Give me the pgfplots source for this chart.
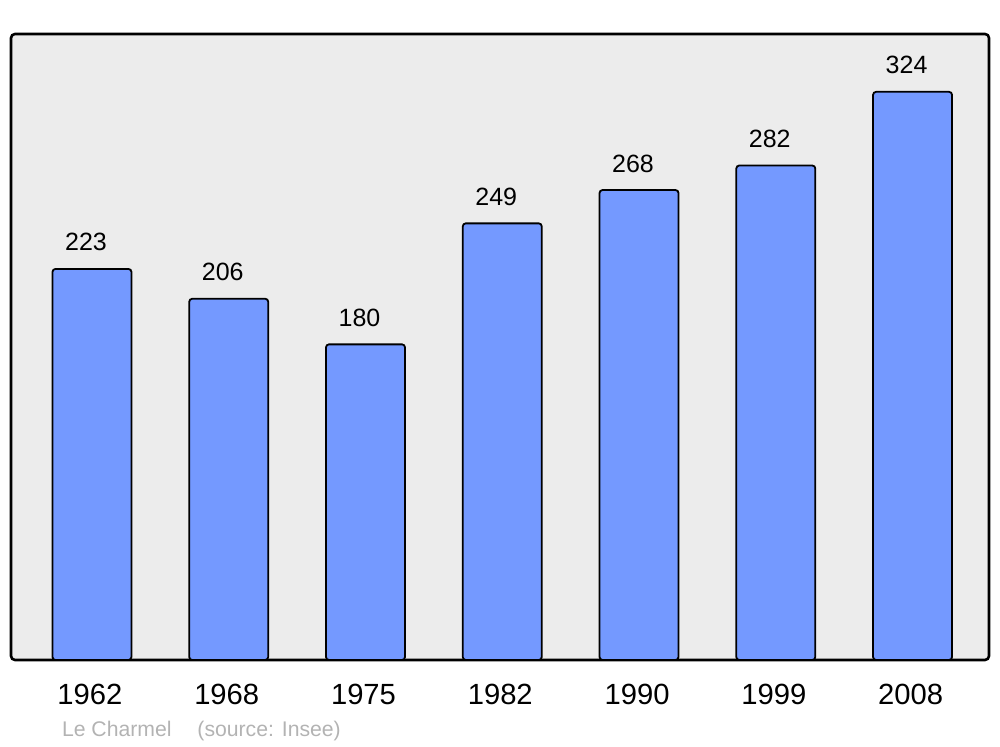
\documentclass[border=0pt]{standalone}
\usepackage{pgfplots}
\pgfplotsset{compat=1.18}
\usepackage{fontspec}
\setmainfont{Liberation Sans}
\definecolor{barblue}{HTML}{7499FF}
\definecolor{panel}{HTML}{ECECEC}
\definecolor{footgray}{HTML}{B3B3B3}

\begin{document}
\begin{tikzpicture}
\path[use as bounding box] (0,0) rectangle (500pt,373.5pt);
\begin{axis}[
    at={(5.5pt,43.5pt)}, anchor=south west,
    scale only axis,
    width=489pt, height=313pt,
    xmin=-0.592, xmax=6.559,
    ymin=0, ymax=357,
    axis line style={draw=none},
    axis background/.style={fill=panel, draw=black, line width=1.3pt, rounded corners=2pt},
    ybar, bar width=39.5pt,
    xtick=data,
    xticklabels={1962,1968,1975,1982,1990,1999,2008},
    xticklabel style={anchor=base, yshift=-22.5pt, xshift=-1pt, font=\fontsize{14.6pt}{16pt}\selectfont},
    ytick=\empty,
    major tick length=0pt,
    clip=false,
    /pgf/number format/assume math mode=true,
    nodes near coords,
    nodes near coords style={anchor=base, yshift=9pt, xshift=-3pt, font=\fontsize{12.5pt}{14pt}\selectfont, text=black},
]
\addplot[draw=black, fill=barblue, line width=0.9pt, rounded corners=1.5pt]
    coordinates {(0,223) (1,206) (2,180) (3,249) (4,268) (5,282) (6,324)};
\end{axis}
\node[anchor=base west, inner sep=0pt, text=footgray, font=\fontsize{10.6pt}{12pt}\selectfont]
    at (30.8pt,5pt) {Le Charmel\hspace{10pt} (source: Insee)};
\end{tikzpicture}
\end{document}
